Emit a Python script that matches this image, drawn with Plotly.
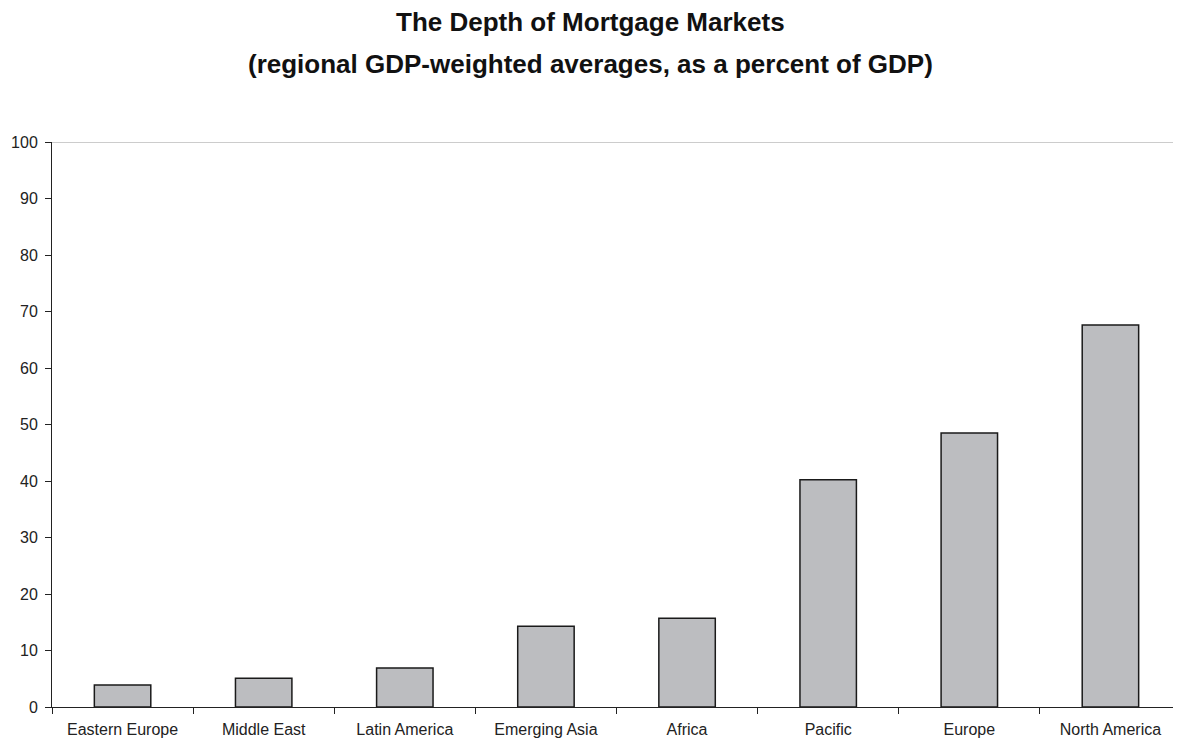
import plotly.graph_objects as go

categories = ["Eastern Europe", "Middle East", "Latin America", "Emerging Asia",
              "Africa", "Pacific", "Europe", "North America"]
values = [3.9, 5.1, 6.9, 14.3, 15.7, 40.2, 48.5, 67.6]
y_ticks = [0, 10, 20, 30, 40, 50, 60, 70, 80, 90, 100]

fig = go.Figure()
fig.add_trace(go.Bar(
    x=categories, y=values,
    marker=dict(color="#bcbdc0", line=dict(color="#1a1a1a", width=1.5)),
    width=0.4,
))

title_font = dict(family="Liberation Sans, Arial, sans-serif", size=26, color="#111")
fig.update_layout(
    width=1173, height=734,
    margin=dict(l=44, r=0, t=134, b=35),
    paper_bgcolor="white", plot_bgcolor="white",
    showlegend=False,
    font=dict(family="Liberation Sans, Arial, sans-serif", size=16, color="#222"),
    annotations=[
        dict(text="<b>The Depth of Mortgage Markets</b>", xref="paper", yref="paper",
             x=0.477, y=1, yshift=120, showarrow=False, font=title_font,
             xanchor="center", yanchor="middle"),
        dict(text="<b>(regional GDP-weighted averages, as a percent of GDP)</b>", xref="paper", yref="paper",
             x=0.477, y=1, yshift=78, showarrow=False, font=title_font,
             xanchor="center", yanchor="middle"),
    ],
    shapes=[dict(type="line", xref="paper", yref="y", x0=0, x1=1, y0=100, y1=100,
                 line=dict(color="#999", width=1))],
)

fig.update_yaxes(range=[0, 100], tickvals=y_ticks, showgrid=False, zeroline=False,
                 showline=True, linecolor="#222", linewidth=1,
                 ticks="outside", ticklen=6, tickcolor="#222", ticklabelstandoff=4)
fig.update_xaxes(showgrid=False, showline=True, linecolor="#222", linewidth=1,
                 ticks="outside", tickson="boundaries", ticklen=6, tickcolor="#222",
                 ticklabelstandoff=8)

fig.write_html("out.html")
